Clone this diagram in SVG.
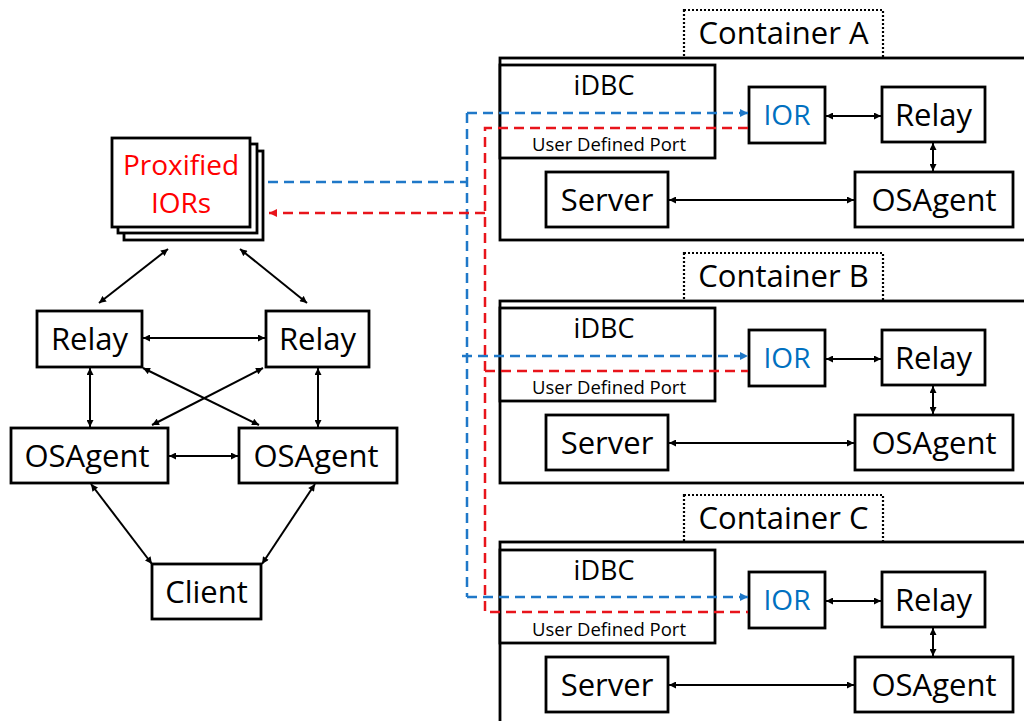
<svg xmlns="http://www.w3.org/2000/svg" width="1024" height="721" viewBox="0 0 1024 721">
<defs>
<style>
.box{fill:#fff;stroke:#000;stroke-width:2.8}
.dot{fill:none;stroke:#000;stroke-width:2.2;stroke-dasharray:2 2}
.t{font-family:"Open Sans","Liberation Sans",sans-serif;font-size:31px;fill:#000;text-anchor:middle}
.s{font-family:"Open Sans","Liberation Sans",sans-serif;font-size:18.5px;fill:#000;text-anchor:middle}
.ior{fill:#0070C0}
.red{fill:#FF0000}
.ln{fill:none;stroke:#000;stroke-width:2}
.bd{fill:none;stroke:#1F78C8;stroke-width:2.5;stroke-dasharray:10 6}
.rd{fill:none;stroke:#E8141B;stroke-width:2.5;stroke-dasharray:10 6}
</style>
<marker id="ab" viewBox="0 0 10 10" refX="10" refY="5" markerWidth="8" markerHeight="7" markerUnits="userSpaceOnUse" orient="auto-start-reverse"><path d="M0,0 L10,5 L0,10 z" fill="#000"/></marker>
<marker id="abl" viewBox="0 0 10 10" refX="10" refY="5" markerWidth="9" markerHeight="8" markerUnits="userSpaceOnUse" orient="auto"><path d="M0,0 L10,5 L0,10 z" fill="#1F78C8"/></marker>
<marker id="ard" viewBox="0 0 10 10" refX="10" refY="5" markerWidth="9" markerHeight="8" markerUnits="userSpaceOnUse" orient="auto"><path d="M0,0 L10,5 L0,10 z" fill="#E8141B"/></marker>
</defs>
<rect width="1024" height="721" fill="#fff"/>

<!-- Containers -->
<g id="containerA">
<rect class="dot" x="684" y="10" width="199" height="48"/>
<text class="t" x="783.5" y="44">Container A</text>
<rect class="box" x="500" y="58" width="540" height="182"/>
<g id="idbcA"><rect class="box" x="500" y="65" width="215" height="93"/><text class="t" style="font-size:27px" x="604" y="95">iDBC</text><text class="s" x="609" y="151">User Defined Port</text></g>
<g id="iorA"><rect class="box" x="749" y="87" width="76" height="56"/><text class="t ior" style="font-size:28px" x="787" y="125">IOR</text></g>
<g id="relayA"><rect class="box" x="882" y="87" width="103" height="55"/><text class="t" x="933.5" y="125.5">Relay</text></g>
<g id="serverA"><rect class="box" x="546" y="172" width="122" height="55"/><text class="t" x="607" y="211">Server</text></g>
<g id="osagentA"><rect class="box" x="855" y="172" width="158" height="55"/><text class="t" x="934" y="211">OSAgent</text></g>
</g>

<g id="containerB" transform="translate(0,243)">
<rect class="dot" x="684" y="10" width="199" height="48"/>
<text class="t" x="783.5" y="44">Container B</text>
<rect class="box" x="500" y="58" width="540" height="182"/>
<g id="idbcB"><rect class="box" x="500" y="65" width="215" height="93"/><text class="t" style="font-size:27px" x="604" y="95">iDBC</text><text class="s" x="609" y="151">User Defined Port</text></g>
<g id="iorB"><rect class="box" x="749" y="87" width="76" height="56"/><text class="t ior" style="font-size:28px" x="787" y="125">IOR</text></g>
<g id="relayB"><rect class="box" x="882" y="87" width="103" height="55"/><text class="t" x="933.5" y="125.5">Relay</text></g>
<g id="serverB"><rect class="box" x="546" y="172" width="122" height="55"/><text class="t" x="607" y="211">Server</text></g>
<g id="osagentB"><rect class="box" x="855" y="172" width="158" height="55"/><text class="t" x="934" y="211">OSAgent</text></g>
</g>

<g id="containerC" transform="translate(0,485)">
<rect class="dot" x="684" y="10" width="199" height="48"/>
<text class="t" x="783.5" y="44">Container C</text>
<rect class="box" x="500" y="57" width="540" height="200"/>
<g id="idbcC"><rect class="box" x="500" y="65" width="215" height="93"/><text class="t" style="font-size:27px" x="604" y="95">iDBC</text><text class="s" x="609" y="151">User Defined Port</text></g>
<g id="iorC"><rect class="box" x="749" y="87" width="76" height="56"/><text class="t ior" style="font-size:28px" x="787" y="125">IOR</text></g>
<g id="relayC"><rect class="box" x="882" y="87" width="103" height="55"/><text class="t" x="933.5" y="125.5">Relay</text></g>
<g id="serverC"><rect class="box" x="546" y="172" width="122" height="55"/><text class="t" x="607" y="211">Server</text></g>
<g id="osagentC"><rect class="box" x="855" y="172" width="158" height="55"/><text class="t" x="934" y="211">OSAgent</text></g>
</g>

<!-- Left nodes -->
<g id="proxified">
<rect class="box" x="124" y="151" width="139" height="89"/>
<rect class="box" x="118" y="144" width="139" height="89"/>
<rect class="box" x="112" y="138" width="138" height="89"/>
<text class="t red" style="font-size:28px" x="181" y="175">Proxified</text>
<text class="t red" style="font-size:28px" x="181" y="213">IORs</text>
</g>
<g id="relayL"><rect class="box" x="37" y="311" width="105" height="56"/><text class="t" x="89.5" y="350">Relay</text></g>
<g id="relayR"><rect class="box" x="266" y="311" width="103" height="56"/><text class="t" x="317.5" y="350">Relay</text></g>
<g id="osagentL"><rect class="box" x="11" y="428" width="157" height="55"/><text class="t" x="87" y="466.5">OSAgent</text></g>
<g id="osagentR"><rect class="box" x="239" y="428" width="158" height="55"/><text class="t" x="316" y="466.5">OSAgent</text></g>
<g id="client"><rect class="box" x="152" y="564" width="109" height="55"/><text class="t" x="206.5" y="602.5">Client</text></g>

<!-- Connectors -->
<g id="connectors">
<g marker-start="url(#ab)" marker-end="url(#ab)">
<line class="ln" x1="168" y1="249" x2="99" y2="303"/>
<line class="ln" x1="240" y1="249" x2="307" y2="303"/>
<line class="ln" x1="143" y1="338" x2="265" y2="338"/>
<line class="ln" x1="90" y1="368" x2="90" y2="427"/>
<line class="ln" x1="318" y1="368" x2="318" y2="427"/>
<line class="ln" x1="143" y1="368" x2="259" y2="425"/>
<line class="ln" x1="263" y1="368" x2="152" y2="425"/>
<line class="ln" x1="169" y1="456" x2="238" y2="456"/>
<line class="ln" x1="91" y1="484" x2="152" y2="564"/>
<line class="ln" x1="315" y1="484" x2="262" y2="564"/>
<line class="ln" x1="826" y1="116" x2="881" y2="116"/>
<line class="ln" x1="933" y1="143" x2="933" y2="171"/>
<line class="ln" x1="669" y1="200" x2="854" y2="200"/>
<line class="ln" x1="826" y1="359" x2="881" y2="359"/>
<line class="ln" x1="933" y1="386" x2="933" y2="414"/>
<line class="ln" x1="669" y1="443" x2="854" y2="443"/>
<line class="ln" x1="826" y1="601" x2="881" y2="601"/>
<line class="ln" x1="933" y1="628" x2="933" y2="656"/>
<line class="ln" x1="669" y1="685" x2="854" y2="685"/>
</g>
<path class="bd" d="M268,182 H467"/>
<path class="bd" d="M467,113 V597"/>
<path class="bd" d="M467,113 H748" marker-end="url(#abl)"/>
<path class="bd" d="M462,356 H748" marker-end="url(#abl)"/>
<path class="bd" d="M467,597 H748" marker-end="url(#abl)"/>
<path class="rd" d="M748,128 H485 V612 H748"/>
<path class="rd" d="M485,371 H748"/>
<path class="rd" d="M485,213 H269" marker-end="url(#ard)"/>
</g>
</svg>
